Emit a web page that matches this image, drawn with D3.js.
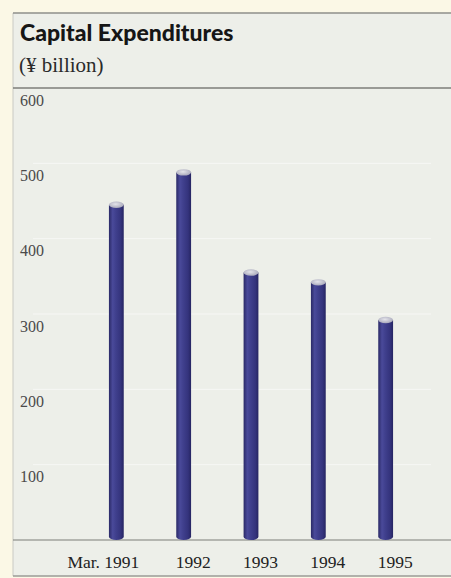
<!DOCTYPE html>
<html>
<head>
<meta charset="utf-8">
<script src="https://cdn.jsdelivr.net/npm/d3@7"></script>
<style>
  html, body { margin: 0; padding: 0; background: #fbf8e6; }
  svg { display: block; }
</style>
</head>
<body>
<svg id="chart" width="451" height="578"></svg>
<script>
// Capital expenditures, ¥ billion
const categories = ["Mar. 1991", "1992", "1993", "1994", "1995"];
const values = [445, 488, 355, 342, 292];
const yTicks = [100, 200, 300, 400, 500, 600];

const panel = { left: 13, top: 13, right: 451, bottom: 576 };
const plot = { left: 82, right: 420, top: 88, bottom: 540 };

const svg = d3.select("#chart");

// gradient for the cylinder bodies
const defs = svg.append("defs");
const grad = defs.append("linearGradient").attr("id", "barGrad")
  .attr("x1", "0%").attr("x2", "100%").attr("y1", "0%").attr("y2", "0%");
[[0, "#2a2966"], [0.25, "#4a4a9a"], [0.45, "#40408e"], [0.8, "#34337c"], [1, "#262562"]]
  .forEach(([o, c]) => grad.append("stop").attr("offset", o).attr("stop-color", c));
const capGrad = defs.append("radialGradient").attr("id", "capGrad")
  .attr("cx", "45%").attr("cy", "40%").attr("r", "60%");
capGrad.append("stop").attr("offset", 0).attr("stop-color", "#e4e4ea");
capGrad.append("stop").attr("offset", 1).attr("stop-color", "#a9a9bb");

// panel background and frame
svg.append("rect").attr("x", panel.left).attr("y", panel.top)
  .attr("width", panel.right - panel.left).attr("height", panel.bottom - panel.top)
  .attr("fill", "#edefe9");
svg.append("line").attr("x1", panel.left).attr("x2", panel.left)
  .attr("y1", panel.top).attr("y2", panel.bottom)
  .attr("stroke", "#c9cac4").attr("stroke-width", 1);
[[panel.top, "#8e8f8a", 1.6], [plot.top, "#7d7e79", 1.4], [plot.bottom, "#7d7e79", 1.2], [panel.bottom, "#9a9b96", 1.4]]
  .forEach(([yy, c, w]) => svg.append("line")
    .attr("x1", panel.left).attr("x2", panel.right).attr("y1", yy).attr("y2", yy)
    .attr("stroke", c).attr("stroke-width", w));

// title block
svg.append("text").attr("x", 20).attr("y", 41)
  .attr("font-family", "Lato, 'Open Sans', sans-serif").attr("font-weight", 900)
  .attr("font-size", 23).attr("fill", "#161616").text("Capital Expenditures");
svg.append("text").attr("x", 19).attr("y", 72)
  .attr("font-family", "'Liberation Serif', serif").attr("font-size", 21)
  .attr("fill", "#2a2a2a").text("(¥ billion)");

// scales
const x = d3.scaleBand().domain(categories).range([plot.left, plot.right]).paddingInner(0.78).paddingOuter(0.4);
const y = d3.scaleLinear().domain([0, 600]).range([plot.bottom, plot.top]);

// faint gridlines
svg.append("g").selectAll("line").data(yTicks.filter(t => t < 600)).join("line")
  .attr("x1", panel.left + 20).attr("x2", panel.right - 20)
  .attr("y1", d => y(d)).attr("y2", d => y(d))
  .attr("stroke", "#ffffff").attr("stroke-opacity", 0.55).attr("stroke-width", 1);

// y axis labels sit just below each gridline
const yAxis = svg.append("g").attr("transform", `translate(20,0)`)
  .call(d3.axisRight(y).tickValues(yTicks).tickSize(0).tickPadding(0));
yAxis.select(".domain").remove();
yAxis.selectAll("text")
  .attr("x", 0).attr("dy", 0).attr("y", 17)
  .attr("text-anchor", "start")
  .attr("font-family", "'Liberation Serif', serif").attr("font-size", 16)
  .attr("fill", "#4a4a4a");

// x axis labels, year part set slightly right of each cylinder
const xAxis = svg.append("g").attr("transform", `translate(0,${plot.bottom})`)
  .call(d3.axisBottom(x).tickSize(0).tickPadding(0));
xAxis.select(".domain").remove();
xAxis.selectAll("text")
  .attr("y", 28).attr("dy", 0)
  .attr("x", (d, i) => i === 0 ? 23 : 27)
  .attr("text-anchor", "end")
  .attr("font-family", "'Liberation Serif', serif").attr("font-size", 17.5)
  .attr("fill", "#222");

// cylinders
const bw = x.bandwidth();
const capRy = 3.2;
const bars = svg.append("g").selectAll("g").data(values).join("g")
  .attr("transform", (d, i) => `translate(${x(categories[i])},0)`);
bars.append("path")
  .attr("d", d => {
    const top = y(d), bot = y(0) - capRy;
    return `M0,${top} L0,${bot} A${bw / 2},${capRy} 0 0 0 ${bw},${bot} L${bw},${top} Z`;
  })
  .attr("fill", "url(#barGrad)");
bars.append("ellipse")
  .attr("cx", bw / 2).attr("cy", d => y(d))
  .attr("rx", bw / 2).attr("ry", capRy)
  .attr("fill", "url(#capGrad)");
</script>
</body>
</html>
